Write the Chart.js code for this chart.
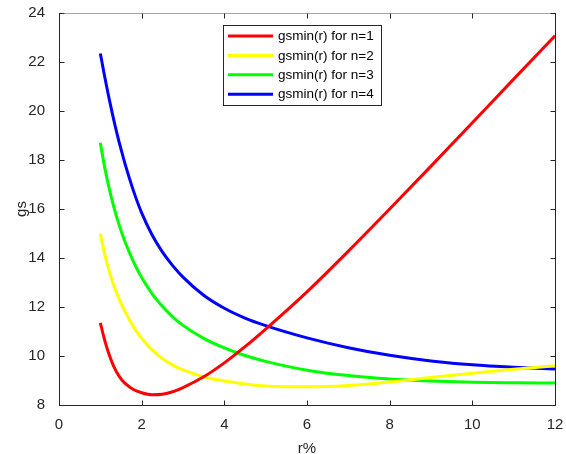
<!DOCTYPE html>
<html>
<head>
<meta charset="utf-8">
<title>gsmin(r)</title>
<script src="https://cdn.jsdelivr.net/npm/chart.js@4.4.1/dist/chart.umd.min.js"></script>
<style>
  html, body { margin: 0; padding: 0; background: #fff; }
  #chart { display: block; }
</style>
</head>
<body>
<canvas id="chart" width="566" height="454"></canvas>
<script>
'use strict';

/* ── data ── */
const R_PCT = [1, 1.1, 1.2, 1.3, 1.4, 1.5, 1.6, 1.8, 2, 2.25, 2.5, 2.75, 3, 3.5, 4, 4.5, 5, 6, 7, 8, 9, 10, 11, 12];

const GS_N1 = [11.35, 10.68, 10.12, 9.67, 9.33, 9.07, 8.88, 8.63, 8.5, 8.42, 8.44, 8.54, 8.71, 9.15, 9.72, 10.38, 11.1, 12.62, 14.28, 16.0, 17.75, 19.52, 21.3, 23.07];
const GS_N2 = [15.0, 14.2, 13.55, 13.0, 12.55, 12.15, 11.8, 11.2, 10.72, 10.25, 9.9, 9.63, 9.43, 9.15, 8.98, 8.86, 8.78, 8.74, 8.8, 8.94, 9.12, 9.3, 9.46, 9.6];
const GS_N3 = [18.7, 17.75, 16.95, 16.25, 15.65, 15.12, 14.65, 13.85, 13.2, 12.55, 12.03, 11.6, 11.25, 10.72, 10.33, 10.02, 9.78, 9.42, 9.2, 9.06, 8.98, 8.93, 8.91, 8.9];
const GS_N4 = [22.35, 21.45, 20.6, 19.82, 19.1, 18.44, 17.83, 16.75, 15.84, 14.95, 14.25, 13.69, 13.22, 12.48, 11.95, 11.55, 11.24, 10.74, 10.34, 10.03, 9.8, 9.64, 9.54, 9.47];

const SERIES_LABELS = ['gsmin(r) for n=1', 'gsmin(r) for n=2', 'gsmin(r) for n=3', 'gsmin(r) for n=4'];
const SERIES_VALUES = [GS_N1, GS_N2, GS_N3, GS_N4];
const SERIES_COLORS = ['#ff0000', '#ffff00', '#00ff00', '#0000ff'];

const X_MIN = 0, X_MAX = 12, X_STEP = 2;
const Y_MIN = 8, Y_MAX = 24, Y_STEP = 2;

/* ── look ── */
const AXIS_COLOR = '#262626';
const FONT = "'Liberation Sans', Arial, Helvetica, sans-serif";
const TICK_LEN = 5;

/* ────────────────────────────────────
   MATLAB-style box with inward ticks
──────────────────────────────────── */
const matlabAxes = {
  id: 'matlabAxes',
  afterDraw(chart) {
    const { ctx, chartArea: a, scales } = chart;
    const L = Math.round(a.left) + 0.5, Rt = Math.round(a.right) + 0.5;
    const T = Math.round(a.top) + 0.5,  B = Math.round(a.bottom) + 0.5;

    ctx.save();
    ctx.lineWidth = 1;

    // top edge is lighter in the reference
    ctx.strokeStyle = '#a6a6a6';
    ctx.beginPath(); ctx.moveTo(L, T); ctx.lineTo(Rt, T); ctx.stroke();

    ctx.strokeStyle = AXIS_COLOR;
    ctx.beginPath();
    ctx.moveTo(L, T); ctx.lineTo(L, B); ctx.lineTo(Rt, B); ctx.lineTo(Rt, T);
    ctx.stroke();

    ctx.beginPath();
    scales.x.ticks.forEach(t => {
      const x = Math.round(scales.x.getPixelForValue(t.value)) + 0.5;
      ctx.moveTo(x, B); ctx.lineTo(x, B - TICK_LEN);
      ctx.moveTo(x, T); ctx.lineTo(x, T + TICK_LEN);
    });
    scales.y.ticks.forEach(t => {
      const y = Math.round(scales.y.getPixelForValue(t.value)) + 0.5;
      ctx.moveTo(L, y); ctx.lineTo(L + TICK_LEN, y);
      ctx.moveTo(Rt, y); ctx.lineTo(Rt - TICK_LEN, y);
    });
    ctx.stroke();
    ctx.restore();
  }
};

/* ────────────────────────────────────
   legend box inside the plot
──────────────────────────────────── */
const insideLegend = {
  id: 'insideLegend',
  afterDraw(chart) {
    const { ctx } = chart;
    const box = { x: 223.5, y: 25.5, w: 158, h: 80 };
    const rowGap = 19.4;

    ctx.save();
    ctx.fillStyle = '#fff';
    ctx.fillRect(box.x, box.y, box.w, box.h);
    ctx.strokeStyle = AXIS_COLOR;
    ctx.lineWidth = 1;
    ctx.strokeRect(box.x, box.y, box.w, box.h);

    ctx.font = '13.5px ' + FONT;
    ctx.textBaseline = 'middle';
    ctx.textAlign = 'left';
    chart.data.datasets.forEach((ds, i) => {
      const y = box.y + 10.5 + i * rowGap;
      ctx.strokeStyle = ds.borderColor;
      ctx.lineWidth = 3;
      ctx.beginPath(); ctx.moveTo(228, y); ctx.lineTo(273, y); ctx.stroke();
      ctx.fillStyle = '#000';
      ctx.fillText(ds.label, 278, y + 0.5);
    });
    ctx.restore();
  }
};

/* ────────────────────────────────────
   chart
──────────────────────────────────── */
function buildDatasets() {
  return SERIES_VALUES.map((vals, i) => ({
    label: SERIES_LABELS[i],
    data: R_PCT.map((r, k) => ({ x: r, y: vals[k] })),
    borderColor: SERIES_COLORS[i],
    backgroundColor: SERIES_COLORS[i],
    borderWidth: 3,
    pointRadius: 0,
    fill: false,
    cubicInterpolationMode: 'monotone',
  }));
}

const tickFont = { family: FONT, size: 15 };

new Chart(document.getElementById('chart'), {
  type: 'line',
  data: { datasets: buildDatasets() },
  options: {
    responsive: false,
    animation: false,
    devicePixelRatio: 1,
    layout: { padding: { top: 13, right: 11, left: 0, bottom: 0 } },
    plugins: {
      legend: { display: false },
      tooltip: { enabled: false },
    },
    scales: {
      x: {
        type: 'linear',
        min: X_MIN, max: X_MAX,
        grid: { display: false },
        border: { display: false },
        ticks: { stepSize: X_STEP, color: AXIS_COLOR, font: tickFont, padding: 3, maxRotation: 0 },
        title: { display: true, text: 'r%', color: AXIS_COLOR, font: tickFont, padding: { top: 0, bottom: -4 } },
        afterFit: s => { s.height = 49; s.paddingLeft = 0; s.paddingRight = 0; },
      },
      y: {
        min: Y_MIN, max: Y_MAX,
        grid: { display: false },
        border: { display: false },
        ticks: { stepSize: Y_STEP, color: AXIS_COLOR, font: tickFont, padding: 6 },
        title: { display: true, text: 'gs', color: AXIS_COLOR, font: tickFont, padding: { top: 13, bottom: 0 } },
        afterFit: s => { s.width = 59; s.paddingTop = 0; s.paddingBottom = 0; },
      },
    },
  },
  plugins: [matlabAxes, insideLegend],
});
</script>
</body>
</html>
